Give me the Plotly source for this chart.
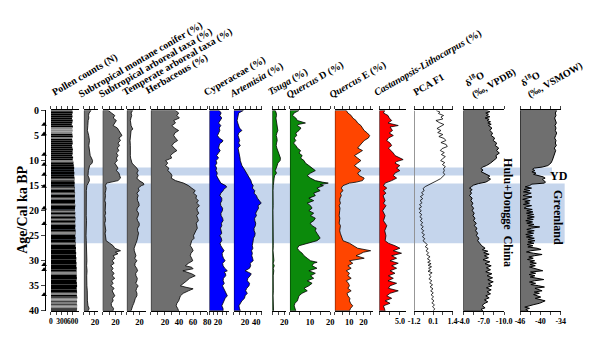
import plotly.graph_objects as go

# ---------------- data ----------------
age_ticks = [0, 5, 10, 15, 20, 25, 30, 35, 40]
dating_ages = [2.8, 4.7, 8.8, 10.8, 12.8, 15.2, 19.5, 22.6, 30.8, 31.8, 36.8]
yd_band = (11.4, 13.0)
glacial_band = (14.6, 26.5)

# pollen counts (N): sparse Holocene samples, dense glacial samples, gray-shaded samples
counts_sparse = [(0.1, 590), (0.5, 600), (0.9, 585), (1.3, 595), (1.7, 580), (2.1, 600), (2.5, 590),
                 (2.9, 575), (3.3, 605), (4.9, 590), (5.3, 600), (5.7, 585), (6.1, 595), (6.5, 600),
                 (6.9, 580), (7.3, 590), (7.7, 605), (8.1, 595), (8.5, 600), (8.9, 585), (9.3, 610),
                 (9.7, 600), (36.4, 720), (36.9, 715), (37.3, 725), (38.2, 720), (38.7, 715),
                 (39.6, 720), (39.9, 715)]
counts_dense = [(10.5, 620), (11, 630), (11.5, 640), (12, 635), (12.5, 645), (13, 640), (13.5, 650),
                (14, 645), (14.5, 655), (15, 650), (15.5, 660), (16, 655), (16.5, 665), (17, 660),
                (17.5, 655), (18, 665), (18.5, 660), (19, 670), (19.5, 665), (20, 660), (20.5, 670),
                (21, 665), (21.5, 675), (22, 670), (22.5, 665), (23, 675), (23.5, 670), (24, 680),
                (24.5, 675), (25, 670), (25.5, 680), (26, 675), (26.5, 685), (27, 680), (27.5, 690),
                (28, 685), (28.5, 695), (29, 690), (29.5, 700), (30, 695), (30.5, 705), (31, 700),
                (31.5, 710), (32, 705), (32.5, 700), (33, 710), (33.5, 715), (34, 705), (34.5, 715),
                (35, 720), (35.5, 710), (36, 715)]
counts_gray = [(3.7, 590), (4.1, 600), (4.5, 585), (10.1, 615), (13.7, 645), (15.5, 655), (16.5, 660),
               (17.6, 660), (18.8, 665), (20.1, 665), (21.0, 668), (21.8, 670), (22.5, 668),
               (24.4, 678), (24.6, 678), (26.5, 685), (32.4, 700), (32.6, 700), (36.6, 710),
               (37.6, 720), (38.0, 715), (39.0, 725), (39.3, 720)]

montane_conifer = [(0, 13.0), (0.5, 9.5), (1, 8.5), (1.5, 9.0), (2, 7.8), (3, 7.2), (4, 6.5), (5, 8.8),
                   (5.5, 9.6), (6, 10.2), (7, 9.0), (8, 10.5), (9, 11.5), (9.5, 13.8), (10, 15.8),
                   (10.5, 15.0), (11, 10.5), (12, 8.2), (13, 7.5), (13.5, 9.5), (14, 10.2), (14.5, 8.0),
                   (15, 5.5), (16, 4.5), (17, 4.2), (18, 4.8), (19, 4.0), (20, 4.5), (21, 4.3), (22, 4.8),
                   (23, 4.2), (24, 4.6), (25, 4.0), (26, 4.4), (27, 4.8), (28, 5.2), (29, 4.6), (30, 5.5),
                   (31, 5.0), (32, 5.8), (33, 5.2), (34, 6.0), (35, 5.5), (36, 6.2), (37, 5.8), (38, 6.5),
                   (39, 7.5), (39.5, 9.5), (40, 8.0)]

subtropical_arboreal = [(0, 8.7), (0.5, 13.8), (1, 19), (1.5, 16.5), (2, 21.5), (2.5, 19), (3, 16.4),
                        (3.5, 23), (4, 25), (4.5, 28.2), (5, 30.3), (5.5, 25.5), (6, 28), (6.5, 24),
                        (7, 26.5), (7.5, 23), (8, 25.5), (8.5, 21.5), (9, 24), (9.5, 21.5), (10, 23),
                        (10.5, 19), (11, 21.5), (11.5, 24), (12, 21.5), (12.5, 25.5), (13, 26.7),
                        (13.5, 28), (14, 24), (14.3, 14), (14.5, 6.2), (15, 4.2), (15.5, 5.4), (16, 4.8),
                        (16.5, 3.8), (17, 4.4), (17.5, 3.6), (18, 3.4), (18.5, 4.6), (19, 4.2), (19.5, 3.3),
                        (20, 3.9), (20.5, 4.7), (21, 3.4), (21.5, 4.2), (22, 4.4), (22.5, 3.2), (23, 3.9),
                        (23.5, 4.8), (24, 4.9), (24.5, 3.8), (25, 4.4), (25.5, 5.2), (26, 5.4), (26.5, 11),
                        (27, 16.4), (27.5, 19), (28, 28), (28.3, 20), (28.6, 24), (29, 16.4), (29.5, 19),
                        (30, 14.9), (30.5, 18), (31, 12.8), (31.5, 16.4), (32, 13.8), (32.5, 18),
                        (33, 14.9), (33.5, 19), (34, 13.8), (34.5, 16.4), (35, 12.8), (35.5, 18),
                        (36, 14.9), (36.5, 17), (37, 19), (37.5, 15.5), (38, 16.4), (38.5, 13.5),
                        (39, 13.8), (39.5, 17), (40, 16.4)]

temperate_arboreal = [(0, 9.2), (0.5, 6.7), (1, 7.7), (1.5, 6.5), (2, 5.6), (2.5, 6.2), (3, 6.7),
                      (3.5, 8.5), (3.7, 9.7), (4, 6.7), (5, 5.6), (6, 5.1), (7, 5.6), (8, 5.1), (9, 5.6),
                      (9.5, 6.0), (10, 6.7), (10.5, 8.2), (11, 11.8), (11.5, 15.9), (12, 18), (12.5, 15.9),
                      (13, 18), (13.5, 15.9), (14, 19.5), (14.5, 26), (14.8, 27), (15, 23), (15.5, 18),
                      (16, 19.5), (16.5, 15.9), (17, 18), (17.5, 16.5), (18, 17), (18.5, 19), (19, 19.5),
                      (19.5, 16.5), (20, 15.9), (20.5, 18.5), (21, 18), (21.5, 16), (22, 17), (22.5, 19.5),
                      (23, 19.5), (23.5, 17), (24, 17), (24.5, 18.5), (25, 18), (25.5, 16.5), (26, 15.9),
                      (26.5, 14.4), (27, 12.8), (27.5, 11.5), (28, 11.8), (28.5, 13.5), (29, 14.4),
                      (29.5, 12.5), (30, 15.9), (30.5, 13), (31, 12.8), (31.5, 15.5), (32, 17), (32.5, 14),
                      (33, 14.4), (33.5, 16.5), (34, 15.9), (34.5, 14), (35, 18), (35.5, 15.5), (36, 14.4),
                      (36.5, 16), (37, 15.9), (37.5, 13.5), (38, 12.8), (38.5, 11), (39, 9.2), (39.5, 7.5),
                      (40, 6.7)]

herbaceous = [(0, 35), (0.5, 39.5), (1, 37), (1.5, 40.5), (2, 32.5), (2.5, 35), (3, 30), (3.5, 33.5),
              (4, 39.5), (4.5, 34), (5, 32.5), (5.5, 35), (6, 38), (6.5, 32.5), (7, 30), (7.5, 33), (8, 37),
              (8.5, 31.5), (9, 28), (9.5, 29.5), (10, 21), (10.5, 24), (11, 21), (11.5, 25.5), (12, 24),
              (12.5, 28), (13, 30), (13.5, 29), (14, 35), (14.5, 46.5), (15, 53.5), (15.5, 58), (16, 63),
              (16.5, 60.5), (17, 65), (17.5, 64), (18, 67.5), (18.5, 65), (19, 69), (19.5, 65.5), (20, 66),
              (20.5, 68), (21, 65), (21.5, 66.5), (22, 67.5), (22.5, 64.5), (23, 65), (23.5, 66), (24, 64),
              (24.5, 62), (25, 60.5), (25.5, 61.5), (26, 58), (26.5, 57), (27, 56), (27.5, 58.5), (28, 60),
              (28.5, 57), (29, 56), (29.5, 58), (30, 59.5), (30.5, 53.5), (31, 49), (31.3, 58), (31.6, 60),
              (32, 45.5), (32.3, 52), (32.6, 58), (33, 63), (33.5, 55), (34, 51), (34.5, 47), (35, 42),
              (35.3, 50), (35.6, 60), (36, 53.5), (36.5, 46), (37, 42), (37.5, 41), (38, 39.5), (38.5, 37),
              (39, 36), (39.5, 38), (40, 39.5)]

cyperaceae = [(0, 23), (0.5, 27.6), (1, 24.5), (1.5, 29), (2, 24.5), (2.5, 21.5), (3, 26.8), (3.5, 23),
              (4, 24.5), (4.5, 21.5), (5, 19), (5.5, 23), (6, 32), (6.3, 30), (6.6, 24.5), (7, 23),
              (7.5, 21.5), (8, 25.3), (8.5, 20.7), (9, 17), (9.5, 21.5), (10, 15.3), (10.5, 17.6),
              (11, 13.8), (11.5, 16.8), (12, 15.3), (12.5, 18.4), (13, 16.8), (13.5, 19.9), (14, 23),
              (14.5, 26.8), (15, 38.3), (15.3, 40.6), (15.7, 34), (16, 32.2), (16.5, 26.8), (17, 24.5),
              (17.5, 29), (18, 29.1), (18.5, 26), (19, 26.8), (19.5, 31), (20, 30.6), (20.5, 27),
              (21, 27.6), (21.5, 31), (22, 32.2), (22.5, 28), (23, 29.1), (23.5, 26), (24, 26.8), (24.5, 29),
              (25, 24.5), (25.5, 28), (26, 29.1), (26.5, 25), (27, 26.8), (27.5, 31), (28, 34.5), (28.5, 30),
              (29, 30.6), (29.5, 33), (30, 36.8), (30.5, 31), (31, 32.2), (31.5, 36), (32, 42.1), (32.3, 35),
              (32.6, 38), (33, 38.3), (33.5, 33), (34, 32.2), (34.5, 35), (35, 30.6), (35.5, 33), (36, 36.8),
              (36.5, 38), (37, 42.1), (37.5, 37), (38, 34.5), (38.5, 31), (39, 29.1), (39.5, 32), (40, 32.2)]

artemisia = [(0, 17), (0.5, 8.6), (1, 7.5), (2, 5.8), (2.5, 7), (3, 8.6), (3.5, 10), (4, 14.4), (4.5, 8.6),
             (5, 7.5), (5.5, 9), (6, 10.4), (6.5, 8.5), (7, 11.5), (7.5, 7.5), (8, 8.6), (8.5, 10), (9, 9.8),
             (9.5, 11), (10, 11.5), (10.5, 12.5), (11, 14.4), (11.5, 17.3), (12, 20.1), (12.5, 23), (13, 25.9),
             (13.5, 28.8), (14, 30.5), (14.5, 31.6), (15, 34.5), (15.5, 33), (16, 37.4), (16.5, 36),
             (17, 40.3), (17.5, 42), (18, 46), (18.5, 48.9), (19, 43.1), (19.5, 44), (20, 41.4), (20.5, 39),
             (21, 40.3), (21.5, 37), (22, 37.4), (22.5, 39), (23, 38.5), (23.5, 36), (24, 36.2), (24.5, 38),
             (25, 37.4), (25.5, 35), (26, 34.5), (26.5, 33), (27, 32.8), (27.5, 34), (28, 31.6), (28.5, 33),
             (29, 32), (29.5, 33.5), (30, 34.5), (30.5, 29), (31, 30), (31.5, 28), (32, 20.1), (32.3, 26),
             (32.6, 31), (33, 29), (33.5, 25), (34, 24), (34.5, 28), (35, 27), (35.5, 23), (36, 21),
             (36.5, 24), (37, 20), (37.5, 19), (38, 14.4), (38.5, 12), (39, 9), (39.5, 10), (40, 11.5)]

tsuga = [(0, 4.9), (0.5, 6.5), (1, 7), (1.5, 6), (2, 6.5), (2.5, 7.5), (3, 7), (3.5, 8), (4, 9.2), (4.5, 7.5),
         (5, 6.5), (5.5, 7.6), (6, 8.1), (6.5, 7), (7, 6.5), (7.5, 7.5), (8, 9.2), (8.5, 10.8), (9, 12),
         (9.5, 13.5), (10, 13), (10.5, 9.2), (11, 8.1), (11.5, 7), (12, 4.9), (12.5, 7), (13, 3.8), (13.5, 3),
         (14, 2.2), (15, 1.6), (16, 1.2), (17, 1.5), (18, 1.0), (19, 1.4), (20, 1.1), (21, 1.3), (22, 0.9),
         (23, 1.2), (24, 1.4), (25, 1.0), (26, 1.3), (27, 1.6), (28, 1.2), (29, 1.8), (30, 2.6), (30.5, 1.4),
         (31, 3.2), (31.5, 1.6), (32, 2.4), (33, 1.5), (34, 1.9), (35, 1.4), (36, 1.7), (37, 1.3), (38, 1.9),
         (39, 2.6), (40, 2.0)]

quercus_d = [(0, 4.5), (0.5, 2.1), (1, 1.3), (1.5, 2.9), (2, 3.7), (2.5, 7.7), (2.8, 4), (3, 3.7), (3.5, 5.5),
             (4, 4.5), (4.5, 2.9), (5, 3.4), (5.5, 2.1), (6, 2.9), (6.5, 1.8), (7, 2.9), (7.5, 3.7), (8, 5.3),
             (8.5, 4.5), (9, 6.1), (9.5, 5.3), (10, 7), (10.5, 7.7), (11, 9.4), (11.5, 11), (12, 12.6),
             (12.5, 10.2), (13, 8.6), (13.5, 10.2), (14, 12.6), (14.3, 16), (14.5, 19), (14.8, 15), (15, 16.6),
             (15.5, 13.4), (16, 15), (16.5, 11.8), (17, 12.6), (17.5, 9.4), (18, 11.8), (18.5, 8.6), (19, 10.2),
             (19.5, 11), (20, 9.4), (20.5, 11.8), (21, 10.2), (21.5, 12.6), (22, 11.8), (22.5, 10), (23, 11),
             (23.5, 13), (24, 12.6), (24.5, 13.4), (25, 14.2), (25.5, 15), (26, 13.4), (26.5, 9.4), (27, 4.5),
             (27.5, 3.7), (28, 4.5), (28.5, 6.1), (29, 7), (29.5, 8.6), (30, 10.2), (30.3, 13.5), (30.5, 11.8),
             (31, 11), (31.5, 13.4), (32, 9.4), (32.5, 12.6), (33, 10.2), (33.5, 11.8), (34, 8.6), (34.5, 11),
             (35, 9.4), (35.5, 7), (36, 8.6), (36.5, 6), (37, 4.5), (38, 3.7), (38.5, 2.5), (39, 2.1), (40, 2.9)]

quercus_e = [(0, 8), (0.5, 9.1), (1, 11.4), (1.5, 12.5), (2, 14.8), (2.5, 15.9), (3, 18.2), (3.5, 19.3),
             (4, 20.5), (4.5, 22.7), (5, 24.3), (5.5, 23.4), (6, 20.5), (6.5, 18.9), (7, 17.1), (7.5, 15.9),
             (8, 19.3), (8.5, 16.6), (9, 13.7), (9.5, 15.9), (10, 18.2), (10.5, 15.9), (11, 13.7), (11.5, 15.9),
             (12, 18.2), (12.5, 15.9), (13, 17.1), (13.5, 20.5), (14, 19.3), (14.3, 15), (14.5, 10.2), (15, 5.7),
             (15.5, 4.5), (16, 5.7), (16.5, 3.9), (17, 4.5), (17.5, 3.6), (18, 3.4), (18.5, 3.9), (19, 3),
             (19.5, 3.6), (20, 3.4), (20.5, 3.2), (21, 3), (21.5, 3.5), (22, 3.4), (22.5, 3.0), (23, 3.9),
             (23.5, 3.4), (24, 3.4), (24.5, 3.8), (25, 4.5), (25.5, 4.8), (26, 5.7), (26.5, 10.2), (27, 13.6),
             (27.5, 15.9), (28, 25), (28.3, 20), (28.6, 18), (29, 14.8), (29.5, 20.5), (30, 10.2), (30.5, 12.5),
             (31, 9.1), (31.5, 11.4), (32, 8), (32.5, 10.2), (33, 9.1), (33.5, 11.4), (34, 8), (34.5, 9.5),
             (35, 10.2), (35.5, 9.1), (36, 11.4), (36.5, 8.5), (37, 9.1), (37.5, 10.5), (38, 10.2), (38.5, 11),
             (39, 12.5), (39.5, 11), (40, 10.2)]

castanopsis = [(0, 1.3), (0.5, 1.0), (1, 2.1), (1.5, 2.4), (2, 3.0), (2.5, 2.1), (3, 4.6), (3.3, 2.6), (4, 3.2),
               (4.5, 2.4), (5, 3.4), (5.5, 2.2), (6, 1.8), (6.5, 2.6), (7, 3.0), (7.5, 2.2), (8, 2.9), (8.5, 3.4),
               (9, 3.8), (9.5, 5.0), (9.8, 5.8), (10.2, 4.2), (10.5, 3.8), (11, 5.0), (11.5, 4.2), (12, 5.0),
               (12.5, 3.8), (13, 3.4), (13.5, 4.2), (14, 3.0), (14.5, 1.4), (15, 1.0), (15.5, 1.8), (16, 1.0),
               (16.5, 1.6), (17, 0.9), (18, 1.4), (18.5, 1.0), (19, 1.6), (20, 0.8), (21, 1.4), (22, 1.0),
               (23, 1.8), (24, 1.3), (25, 1.6), (26, 1.4), (26.5, 2.2), (27, 3.8), (27.5, 5.0), (28, 3.4),
               (28.5, 5.4), (29, 3.0), (29.5, 4.2), (30, 2.6), (30.5, 4.6), (31, 3.0), (31.5, 4.2), (32, 2.6),
               (32.5, 3.8), (33, 2.2), (33.5, 3.4), (34, 2.1), (34.5, 4.2), (35, 2.6), (35.5, 2.2), (36, 4.6),
               (36.5, 2.6), (37, 1.8), (37.5, 3.0), (38, 1.4), (38.5, 2.6), (39, 1.0), (40, 1.4)]

pca_f1 = [(0, 0.30), (0.3, 0.55), (0.6, 0.45), (1.0, 0.80), (1.3, 0.62), (1.7, 0.75), (2.0, 0.28), (2.4, 0.50),
          (2.8, 0.82), (3.2, 0.55), (3.6, 0.35), (4.0, 0.62), (4.4, 0.40), (4.8, 0.75), (5.2, 0.48), (5.6, 0.85),
          (6.0, 0.95), (6.4, 0.62), (6.8, 0.98), (7.2, 1.05), (7.6, 0.70), (8.0, 0.58), (8.4, 0.85), (8.8, 0.65),
          (9.2, 0.92), (9.6, 0.75), (10.0, 0.60), (10.4, 0.88), (10.8, 0.72), (11.2, 0.92), (11.6, 0.80),
          (12.0, 0.85), (12.4, 0.78), (12.8, 0.88), (13.2, 0.75), (13.6, 0.60), (14.0, 0.35), (14.4, 0.10),
          (14.8, -0.25), (15.2, -0.45), (15.6, -0.60), (16.0, -0.52), (16.4, -0.70), (16.8, -0.58),
          (17.2, -0.78), (17.6, -0.62), (18.0, -0.80), (18.4, -0.66), (18.8, -0.84), (19.2, -0.70),
          (19.6, -0.88), (20.0, -0.72), (20.4, -0.85), (20.8, -0.68), (21.2, -0.82), (21.6, -0.66),
          (22.0, -0.78), (22.4, -0.62), (22.8, -0.76), (23.2, -0.58), (23.6, -0.72), (24.0, -0.55),
          (24.4, -0.68), (24.8, -0.50), (25.2, -0.64), (25.6, -0.48), (26.0, -0.60), (26.4, -0.42),
          (26.8, -0.30), (27.2, -0.45), (27.6, -0.25), (28.0, -0.40), (28.4, -0.22), (28.8, -0.35),
          (29.2, -0.12), (29.6, -0.30), (30.0, -0.10), (30.3, -0.28), (30.6, -0.05), (30.9, -0.25),
          (31.2, -0.02), (31.5, -0.22), (31.8, -0.08), (32.1, -0.26), (32.4, 0.02), (32.8, -0.18),
          (33.2, -0.05), (33.6, -0.20), (34.0, 0.00), (34.4, -0.15), (34.8, 0.05), (35.2, -0.12),
          (35.6, 0.08), (36.0, -0.08), (36.4, 0.10), (36.8, -0.05), (37.2, 0.12), (37.6, -0.02),
          (38.0, 0.15), (38.4, 0.00), (38.8, 0.18), (39.2, 0.05), (39.6, 0.20), (40.0, 0.10)]

d18o_hulu_dongge = [(0, -7.5), (0.25, -7.9), (0.5, -7.3), (0.75, -7.7), (1.0, -7.4), (1.25, -7.9), (1.5, -7.2),
                    (1.75, -7.8), (2.0, -7.5), (2.25, -8.0), (2.5, -7.6), (2.75, -8.1), (3.0, -7.7), (3.5, -8.2),
                    (4.0, -7.9), (4.5, -8.3), (5.0, -8.1), (5.5, -8.6), (6.0, -8.4), (6.5, -8.9), (7.0, -8.7),
                    (7.5, -9.2), (8.0, -8.9), (8.5, -9.3), (9.0, -8.8), (9.5, -8.9), (10.0, -8.5), (10.5, -8.0),
                    (11.0, -7.4), (11.3, -6.8), (11.6, -6.6), (11.9, -6.9), (12.2, -6.6), (12.5, -7.0),
                    (12.8, -7.5), (13.1, -7.9), (13.4, -7.6), (13.7, -8.0), (14.0, -7.7), (14.3, -7.3),
                    (14.6, -6.2), (14.9, -5.5), (15.2, -5.2), (15.5, -4.9), (15.8, -5.3), (16.1, -5.0),
                    (16.5, -5.2), (17.0, -4.9), (17.5, -5.3), (18.0, -5.1), (18.5, -5.4), (19.0, -5.2),
                    (19.5, -5.5), (20.0, -5.3), (20.5, -5.6), (21.0, -5.4), (21.5, -5.7), (22.0, -5.5),
                    (22.5, -5.9), (23.0, -5.6), (23.5, -6.0), (24.0, -5.8), (24.5, -6.1), (25.0, -5.9),
                    (25.5, -6.3), (26.0, -6.1), (26.5, -6.4), (27.0, -6.7), (27.5, -7.2), (27.8, -6.8),
                    (28.1, -7.6), (28.4, -7.0), (28.7, -7.8), (29.0, -7.1), (29.4, -7.7), (29.8, -6.9),
                    (30.2, -7.9), (30.6, -7.2), (31.0, -8.1), (31.4, -7.4), (31.8, -8.0), (32.2, -7.3),
                    (32.6, -8.2), (33.0, -7.5), (33.4, -8.3), (33.8, -7.6), (34.2, -8.4), (34.6, -7.7),
                    (35.0, -8.2), (35.4, -7.4), (35.8, -8.1), (36.2, -7.5), (36.6, -8.0), (37.0, -7.3),
                    (37.4, -7.8), (37.8, -7.1), (38.2, -7.6), (38.6, -7.0), (39.0, -6.8), (39.4, -7.2),
                    (39.7, -6.6), (40.0, -6.9)]

d18o_greenland = [(0, -35.2), (0.5, -35.6), (1, -35.4), (1.5, -35.8), (2, -35.5), (2.5, -35.3), (3, -35.7),
                  (3.5, -35.4), (4, -35.6), (4.5, -35.2), (5, -35.5), (5.5, -35.8), (6, -35.4), (6.5, -35.6),
                  (7, -35.3), (7.5, -35.9), (8, -35.5), (8.5, -35.7), (9, -36.0), (9.5, -36.2), (10, -36.5),
                  (10.5, -36.9), (11.0, -37.8), (11.3, -39.5), (11.5, -41.8), (11.75, -42.3), (12.0, -41.6),
                  (12.25, -42.5), (12.5, -41.3), (12.75, -42.0), (13.0, -40.0), (13.25, -39.2), (13.5, -38.6),
                  (13.75, -39.4), (14.0, -39.0), (14.25, -38.5), (14.5, -38.8), (14.7, -42.5), (15.0, -43.2),
                  (15.25, -44.5), (15.5, -42.6), (15.75, -44.8), (16.0, -43.1), (16.25, -45.0), (16.5, -42.7),
                  (16.75, -44.3), (17.0, -45.1), (17.25, -42.5), (17.5, -44.2), (17.75, -45.2), (18.0, -43.0),
                  (18.25, -44.6), (18.5, -43.2), (18.75, -45.0), (19.0, -42.6), (19.25, -44.2), (19.5, -44.8),
                  (19.75, -42.4), (20.0, -44.0), (20.25, -42.2), (20.5, -44.1), (20.75, -42.0), (21.0, -43.8),
                  (21.25, -41.8), (21.5, -43.9), (21.75, -42.1), (22.0, -44.3), (22.25, -42.3), (22.5, -44.0),
                  (22.75, -41.9), (23.0, -43.5), (23.25, -40.2), (23.5, -42.6), (23.75, -44.0), (24.0, -41.8),
                  (24.25, -43.8), (24.5, -42.0), (24.75, -44.3), (25.0, -42.3), (25.25, -44.1), (25.5, -41.8),
                  (25.75, -43.6), (26.0, -41.6), (26.25, -43.7), (26.5, -41.9), (26.75, -43.9), (27.0, -42.2),
                  (27.25, -43.7), (27.5, -41.0), (27.75, -39.8), (28.0, -42.8), (28.25, -44.1), (28.5, -42.0),
                  (28.75, -39.5), (29.0, -41.8), (29.25, -43.4), (29.5, -42.1), (29.75, -43.8), (30.0, -41.7),
                  (30.25, -43.1), (30.5, -41.2), (30.75, -43.0), (31.0, -41.5), (31.25, -43.2), (31.5, -41.9),
                  (31.75, -40.5), (32.0, -39.3), (32.25, -42.9), (32.5, -41.4), (32.75, -43.3), (33.0, -41.6),
                  (33.25, -43.0), (33.5, -41.0), (33.75, -39.0), (34.0, -41.8), (34.25, -43.2), (34.5, -41.4),
                  (34.75, -42.8), (35.0, -40.5), (35.25, -38.8), (35.5, -41.6), (35.75, -40.4), (36.0, -39.5),
                  (36.25, -41.8), (36.5, -40.3), (36.75, -42.0), (37.0, -40.8), (37.25, -39.9), (37.5, -41.5),
                  (37.75, -39.6), (38.0, -38.6), (38.25, -39.4), (38.5, -40.3), (38.75, -41.9), (39.0, -43.5),
                  (39.25, -44.6), (39.5, -43.2), (39.75, -44.3), (40.0, -43.6)]

# ---------------- layout helpers ----------------
W, H = 600, 342
Y_TOP, Y_BOT = 109, 316
SERIF = "Liberation Serif"
GRAY = "#6f6f6f"


def fx(p):
    return p / W


def fy(p):
    return 1 - p / H


# panel: name, left px, right px, range, tickvals, ticktext, label size
panels = [
    ("counts", 46, 75, [0, 780], [0, 150, 300, 450, 600], ["0", "", "300", "", "600"], 7.5),
    ("montane", 79.7, 94.7, [0, 26.5], [0, 10, 20], ["", "", "20"], 8.5),
    ("subtrop", 99, 120.5, [0, 33], [0, 10, 20, 30], ["", "", "20", ""], 8.5),
    ("temperate", 123.7, 143, [0, 29.7], [0, 10, 20], ["", "", "20"], 8.5),
    ("herb", 148.3, 206, [0, 80], [0, 10, 20, 30, 40, 50, 60, 70, 80],
     ["", "", "20", "", "40", "", "60", "", "80"], 8.5),
    ("cyper", 208.3, 228, [0, 45.3], [0, 10, 20, 30, 40], ["", "", "20", "", ""], 8.5),
    ("artemisia", 233.3, 262, [0, 50], [0, 10, 20, 30, 40, 50], ["", "", "20", "", "40", ""], 8.5),
    ("tsuga", 272.7, 286.7, [0, 22.8], [0, 10, 20], ["", "", "20"], 8.5),
    ("qd", 290.7, 332, [0, 20], [0, 5, 10, 15, 20], ["", "", "10", "", "20"], 8.5),
    ("qe", 336.7, 376, [0, 26.8], [0, 5, 10, 15, 20, 25], ["", "", "10", "", "20", ""], 8.5),
    ("cast", 382.3, 410, [0, 6.6], [0, 2.5, 5.0], ["", "", "5.0"], 8),
    ("pca", 417.8, 457.2, [-1.21, 1.41], [-1.2, -0.55, 0.1, 0.75, 1.4], ["-1.2", "", "0.1", "", "1.4"], 8),
    ("vpdb", 468.3, 510, [-4, -10], [-4, -5.5, -7, -8.5, -10], ["-4.0", "", "-7.0", "", "-10.0"], 8),
    ("vsmow", 526.3, 568, [-46, -34], [-46, -43, -40, -37, -34], ["-46", "", "-40", "", "-34"], 8),
]
axis_id = {p[0]: ("x" if i == 0 else "x%d" % (i + 1)) for i, p in enumerate(panels)}
MARK_AXIS = "x%d" % (len(panels) + 1)

fig = go.Figure()


def add_fill(series, key, base, color, lw=0.8):
    ages = [a for a, _ in series]
    vals = [v for _, v in series]
    xs = [base] + vals + [base, base]
    ys = [ages[0]] + ages + [ages[-1], ages[0]]
    fig.add_trace(go.Scatter(x=xs, y=ys, xaxis=axis_id[key], yaxis="y", mode="lines",
                             fill="toself", fillcolor=color,
                             line=dict(color="black", width=lw), hoverinfo="skip", showlegend=False))


def add_bars(series, color, width):
    fig.add_trace(go.Bar(x=[c for _, c in series], y=[a for a, _ in series], orientation="h",
                         width=width, marker=dict(color=color, line=dict(width=0)),
                         xaxis=axis_id["counts"], yaxis="y", hoverinfo="skip", showlegend=False))


# pollen counts
add_bars(counts_dense, "black", 0.5)
add_bars(counts_sparse, "black", 0.22)
add_bars(counts_gray, "#8a8a8a", 0.22)

add_fill(montane_conifer, "montane", 0, GRAY)
add_fill(subtropical_arboreal, "subtrop", 0, GRAY)
add_fill(temperate_arboreal, "temperate", 0, GRAY)
add_fill(herbaceous, "herb", 0, GRAY)
add_fill(cyperaceae, "cyper", 0, "#0000ff")
add_fill(artemisia, "artemisia", 0, "#0000ff")
add_fill(tsuga, "tsuga", 0, "#0b8a0b")
add_fill(quercus_d, "qd", 0, "#0b8a0b")
add_fill(quercus_e, "qe", 0, "#ff4500")
add_fill(castanopsis, "cast", 0, "#ff0000")
add_fill(d18o_hulu_dongge, "vpdb", -4, GRAY, 1.0)
add_fill(d18o_greenland, "vsmow", -46, GRAY, 1.0)

fig.add_trace(go.Scatter(x=[v for _, v in pca_f1], y=[a for a, _ in pca_f1], xaxis=axis_id["pca"], yaxis="y",
                         mode="lines", line=dict(color="black", width=0.8), hoverinfo="skip", showlegend=False))

# dating control points (triangles on the age axis), on a hidden helper x-axis
fig.add_trace(go.Scatter(x=[0.5] * len(dating_ages), y=dating_ages, xaxis=MARK_AXIS, yaxis="y",
                         mode="markers", marker=dict(symbol="triangle-up", size=5, color="black"),
                         cliponaxis=False, hoverinfo="skip", showlegend=False))

layout = dict(
    width=W, height=H, margin=dict(l=0, r=0, t=0, b=0),
    paper_bgcolor="white", plot_bgcolor="rgba(0,0,0,0)",
    barmode="overlay", showlegend=False,
    yaxis=dict(domain=[fy(Y_BOT), fy(Y_TOP)], range=[40, 0], anchor="free", position=fx(40),
               showline=True, linecolor="black", linewidth=1, ticks="outside", ticklen=4,
               tickvals=age_ticks, tickangle=0,
               tickfont=dict(family=SERIF, size=10, color="black", weight="bold"),
               showgrid=False, zeroline=False),
)
for i, (key, l, r, rng, tv, tt, fs) in enumerate(panels):
    name = "xaxis" if i == 0 else "xaxis%d" % (i + 1)
    layout[name] = dict(domain=[fx(l), fx(r)], range=rng, anchor="y", side="bottom",
                        showline=True, mirror="ticks", linecolor="black", linewidth=1,
                        ticks="outside", ticklen=3, tickwidth=1, tickvals=tv, ticktext=tt, tickangle=0,
                        tickfont=dict(family=SERIF, size=fs, color="black", weight="bold"),
                        showgrid=False, zeroline=False)
layout["xaxis%d" % (len(panels) + 1)] = dict(domain=[fx(35), fx(43)], range=[0, 1], anchor="y", visible=False)

shapes = [
    dict(type="rect", xref="paper", yref="y", x0=fx(46), x1=fx(559), y0=yd_band[0], y1=yd_band[1],
         fillcolor="#c5d5ec", line=dict(width=0), layer="below"),
    dict(type="rect", xref="paper", yref="y", x0=fx(46), x1=fx(572), y0=glacial_band[0], y1=glacial_band[1],
         fillcolor="#c5d5ec", line=dict(width=0), layer="below"),
    dict(type="line", xref=axis_id["pca"], yref="y", x0=-1.2, x1=-1.2, y0=0, y1=40,
         line=dict(color="#8c8c8c", width=1.5)),
]
layout["shapes"] = shapes

annotations = []
titlefont = dict(family=SERIF, size=10, color="black", weight="bold")
titles = [
    ("Pollen counts (N)", 49, 97, 1),
    ("Subtropical montane conifer (%)", 76, 99, 1),
    ("Subtropical arboreal taxa (%)", 97, 99, 1),
    ("Temperate arboreal taxa (%)", 121, 97, 1),
    ("Herbaceous (%)", 145, 96, 1),
    ("Cyperaceae (%)", 205, 97, 1),
    ("<i>Artemisia</i> (%)", 231, 99, 1),
    ("<i>Tsuga</i> (%)", 270, 97, 1),
    ("<i>Quercus</i> D (%)", 289, 100, 1),
    ("<i>Quercus</i> E (%)", 333, 100, 1),
    ("<i>Castanopsis-Lithocarpus</i> (%)", 379, 98, 1),
    ("PCA F1", 419, 97, 1),
    ("δ<sup>18</sup>O<br>(‰, VPDB)", 478, 100, 2),
    ("δ<sup>18</sup>O<br>(‰, VSMOW)", 535, 100, 2),
]
for text, x0, y0, nl in titles:
    annotations.append(dict(text=text, xref="paper", yref="paper", x=fx(x0 - 1 - 6 * nl), y=fy(y0 + 2),
                            xanchor="left", yanchor="bottom", textangle=-30, showarrow=False,
                            align="left", font=titlefont))

centered = dict(xref="paper", yref="paper", xanchor="center", yanchor="middle", showarrow=False)
annotations += [
    dict(text="Age/Cal ka BP", x=fx(17), y=fy(212), textangle=-90,
         font=dict(family=SERIF, size=14, color="black", weight="bold"), **centered),
    dict(text="Hulu+Dongge\u00a0\u00a0China", x=fx(514), y=fy(214), textangle=90,
         font=dict(family=SERIF, size=12, color="black", weight="bold"), **centered),
    dict(text="Greenland", x=fx(565), y=fy(220), textangle=90,
         font=dict(family=SERIF, size=12, color="black", weight="bold"), **centered),
    dict(text="YD", x=fx(566), y=fy(177),
         font=dict(family=SERIF, size=12, color="black", weight="bold"), **centered),
]
layout["annotations"] = annotations

fig.update_layout(**layout)
fig.write_html("out.html")
